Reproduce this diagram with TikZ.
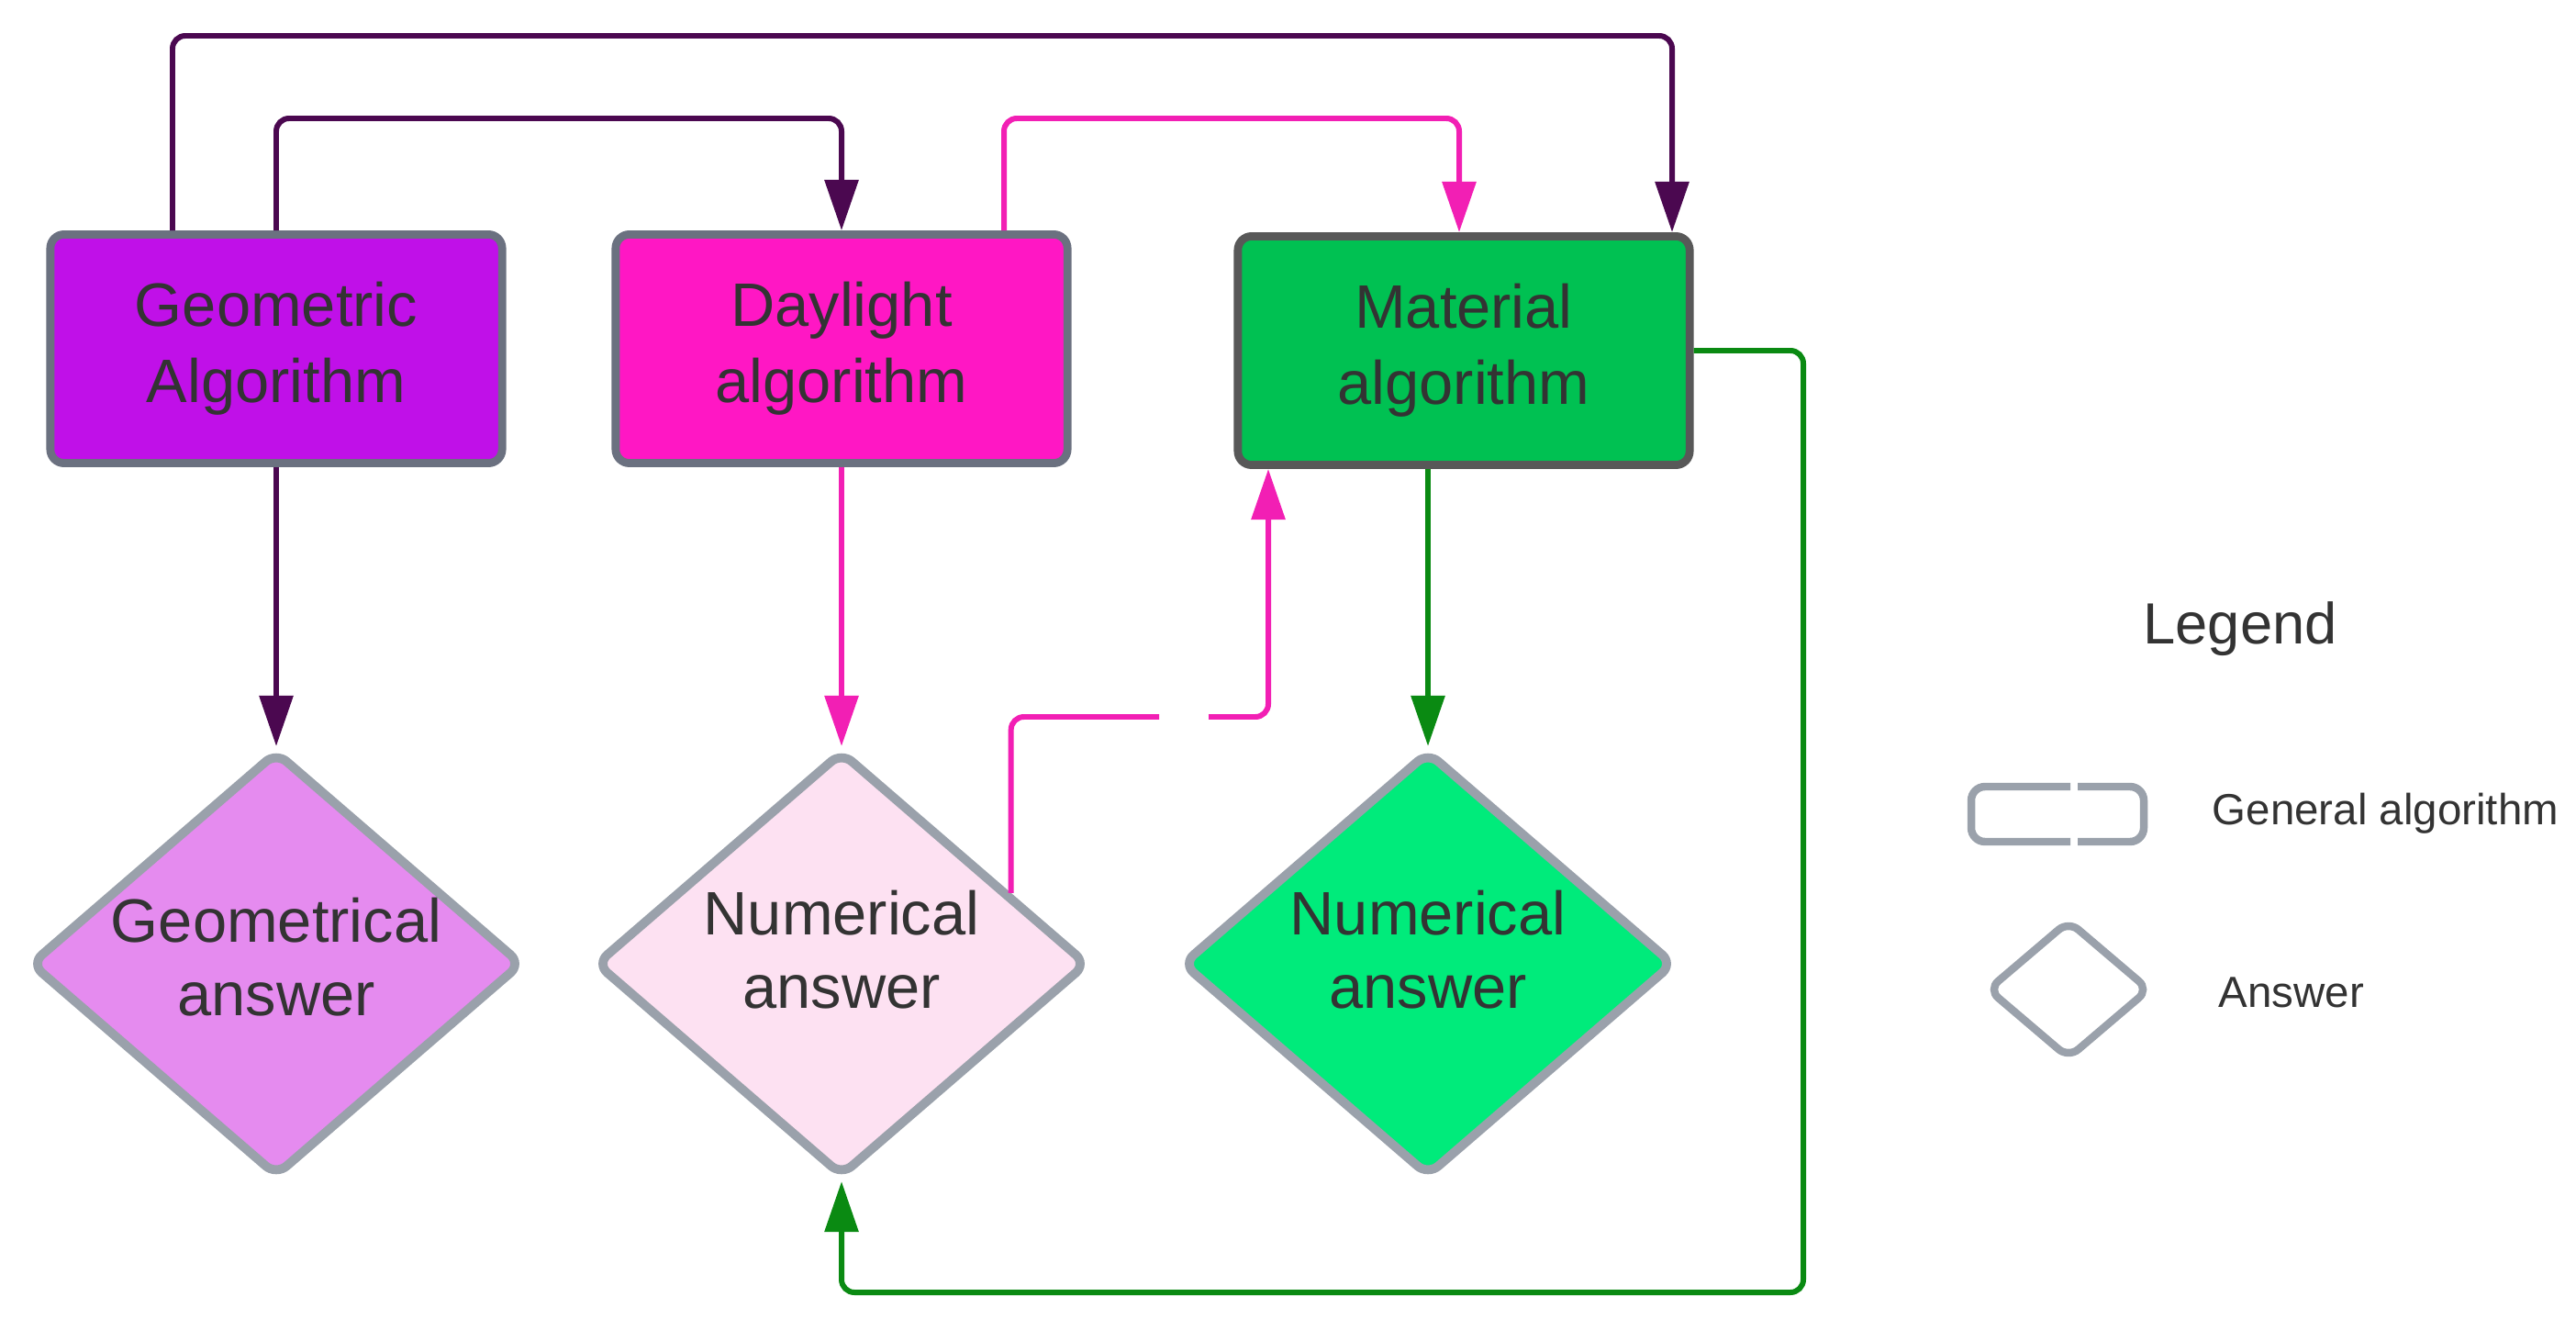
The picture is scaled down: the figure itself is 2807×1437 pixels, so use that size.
\documentclass[tikz,border=0pt]{standalone}
\usepackage{fontspec}
\setmainfont{Liberation Sans}
\usetikzlibrary{arrows.meta,shapes.geometric,calc}
\definecolor{geofill}{HTML}{C010E8}
\definecolor{dayfill}{HTML}{FF17C4}
\definecolor{matfill}{HTML}{00C152}
\definecolor{boxgray}{HTML}{6B7180}
\definecolor{matgray}{HTML}{585858}
\definecolor{geoans}{HTML}{E58BEF}
\definecolor{dayans}{HTML}{FDE1F2}
\definecolor{matans}{HTML}{00EB7B}
\definecolor{diagray}{HTML}{9AA1AB}
\definecolor{purp}{HTML}{4B0850}
\definecolor{pinkline}{HTML}{F21FB4}
\definecolor{greenline}{HTML}{0A8A12}
\definecolor{txt}{HTML}{333333}
\begin{document}
\begin{tikzpicture}[x=0.01cm,y=-0.01cm,
  algbox/.style={draw=boxgray, line width=2.5pt, rounded corners=0.15cm,
    minimum width=4.92cm, minimum height=2.49cm, inner sep=0pt, align=center,
    font=\fontsize{19}{23.6}\selectfont, text=txt},
  ansdia/.style={shape=diamond, draw=diagray, line width=2.8pt, rounded corners=0.15cm,
    minimum width=5.37cm, minimum height=4.64cm, inner sep=0pt},
  anstext/.style={align=center, inner sep=0pt, font=\fontsize{19}{22.8}\selectfont, text=txt},
  conn/.style={line width=1.7pt, rounded corners=0.14cm, -{Triangle[length=0.55cm,width=0.36cm]}},
  legline/.style={draw=diagray, line width=2.4pt, rounded corners=0.15cm},
  legtext/.style={font=\fontsize{13.5}{16}\selectfont, text=txt, inner sep=0pt}
]
\useasboundingbox (0,0) rectangle (2807,1437);

% algorithm boxes
\node[algbox, fill=geofill] (geo) at (301,380) {Geometric\\Algorithm};
\node[algbox, fill=dayfill] (day) at (917,380) {Daylight\\algorithm};
\node[algbox, fill=matfill, draw=matgray] (mat) at (1595,382) {Material\\algorithm};

% answers
\node[ansdia, fill=geoans] (geoA) at (301,1050) {};
\node[anstext] (geoAt) at (301,1043) {Geometrical\\answer};
\node[ansdia, fill=dayans] (dayA) at (917,1050) {};
\node[anstext] (dayAt) at (917,1035) {Numerical\\answer};
\node[ansdia, fill=matans] (matA) at (1556,1050) {};
\node[anstext] (matAt) at (1556,1035) {Numerical\\answer};

% connectors
\draw[conn, purp] (188,0 |- geo.north) |- (1822,39) -- (1822,0 |- mat.north);
\draw[conn, purp] (geo.north) |- (917,129) -- (day.north);
\draw[conn, pinkline] (1094,0 |- day.north) |- (1590,129) -- (1590,0 |- mat.north);
\draw[conn, greenline] (mat.east) -| (1965,1408) -| (dayA.south);

\draw[conn, purp] (geo.south) -- (geoA.north);
\draw[conn, pinkline] (day.south) -- (dayA.north);
\draw[conn, greenline] (matA.north |- mat.south) -- (matA.north);

\coordinate (pstart) at ($(dayA.north)!0.675!(dayA.east)$);
\coordinate (gapL) at (1263,781);
\coordinate (gapR) at (1317,781);
\draw[conn, pinkline] (pstart) |- (gapL) (gapR) -| (1382,0 |- mat.south);

% legend
\node[font=\fontsize{18}{22}\selectfont, text=txt, anchor=base, inner sep=0pt] (legT) at (2441,701) {Legend};
\draw[legline] (2256,857) -- (2148,857) -- (2148,917) -- (2256,917);
\draw[legline] (2264,857) -- (2336,857) -- (2336,917) -- (2264,917);
\node[legtext, anchor=base west] (legG) at (2410,898) {General algorithm};
\node[shape=diamond, draw=diagray, line width=2.4pt, rounded corners=0.14cm,
  minimum width=1.78cm, minimum height=1.52cm, inner sep=0pt] (legD) at (2254,1078) {};
\node[legtext, anchor=base west] (legA) at (2417,1097) {Answer};
\end{tikzpicture}
\end{document}
